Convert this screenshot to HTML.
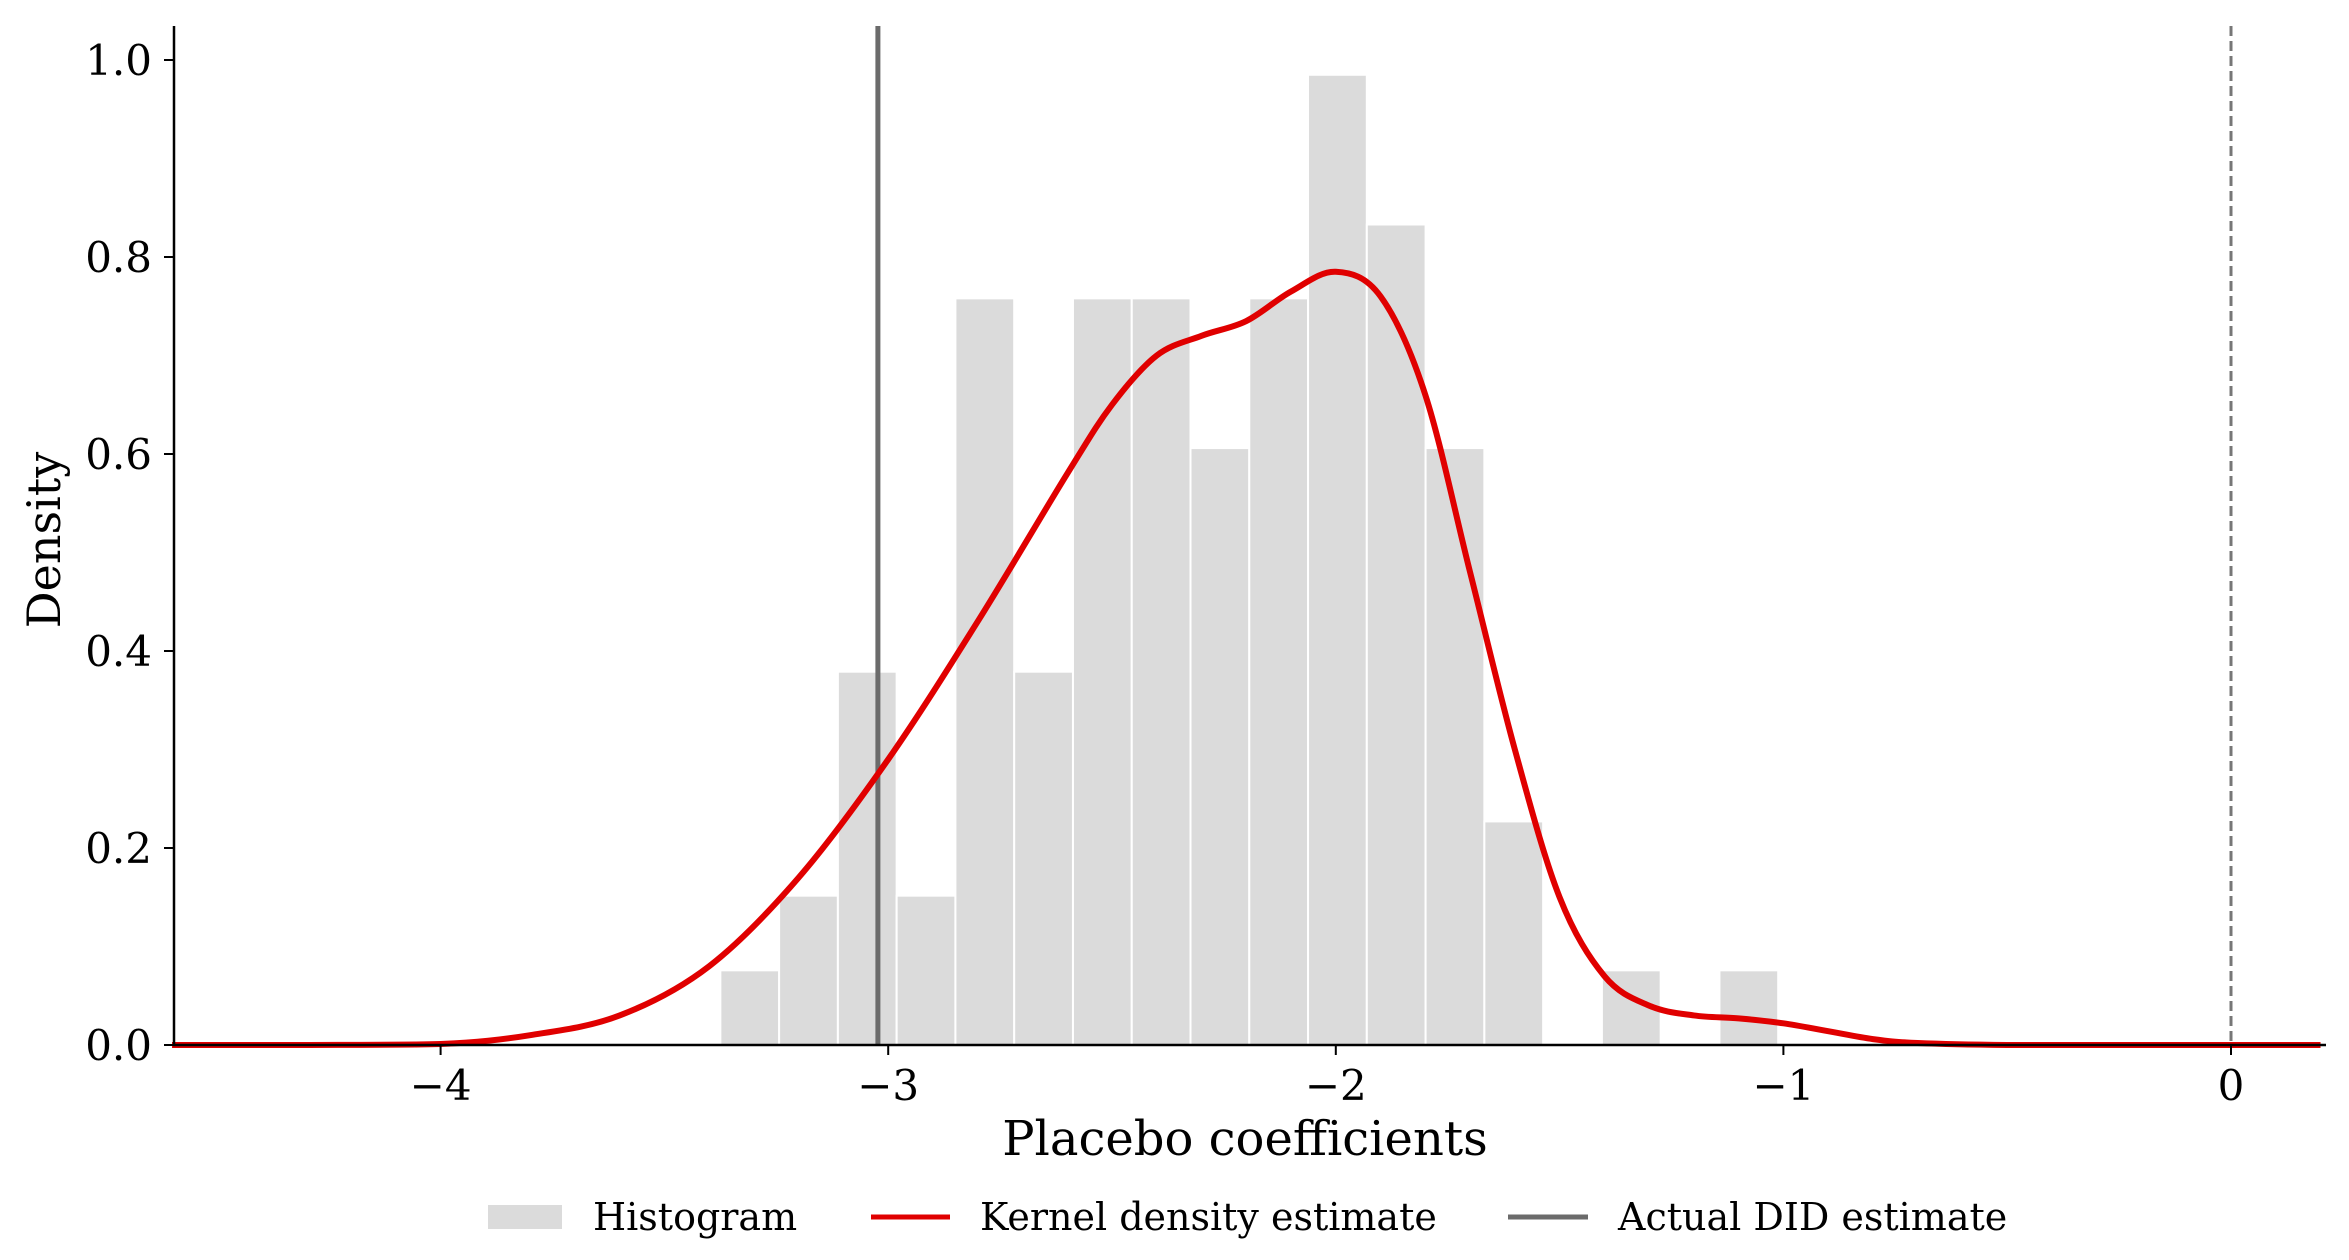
<!DOCTYPE html>
<html><head><meta charset="utf-8"><style>
html,body{margin:0;padding:0;background:#fff;}
svg{display:block;font-family:"DejaVu Serif","Liberation Serif",serif;}
</style></head><body>
<svg id="chart" width="2349" height="1260" viewBox="0 0 2349 1260" xmlns="http://www.w3.org/2000/svg">
<g id="bars"></g>
<g id="lines"></g>
<g id="kde"></g>
<g id="axes"></g>
<g id="legend"></g>
</svg>
<script>
const binStart = -3.375;
const binWidth = 0.1313;
const binDensities = [0.0758,0.1516,0.379,0.1516,0.758,0.379,0.758,0.758,0.606,0.758,0.985,0.833,0.606,0.227,0,0.0758,0,0.0758];
const kdeX = [-4.6,-4.3,-4.0,-3.8,-3.6,-3.4,-3.2,-3.0,-2.8,-2.6,-2.5,-2.4,-2.3,-2.2,-2.1,-2.0,-1.9,-1.8,-1.7,-1.6,-1.5,-1.4,-1.3,-1.2,-1.1,-1.0,-0.9,-0.8,-0.7,-0.5,-0.2,0.2];
const kdeY = [0,0,0.001,0.01,0.03,0.08,0.17,0.29,0.43,0.58,0.65,0.70,0.72,0.735,0.765,0.785,0.76,0.66,0.48,0.30,0.15,0.07,0.04,0.03,0.027,0.022,0.014,0.006,0.002,0,0,0];
const xTicks = [-4,-3,-2,-1,0];
const xTickLabels = ["\u22124","\u22123","\u22122","\u22121","0"];
const yTicks = [0,0.2,0.4,0.6,0.8,1.0];
const yTickLabels = ["0.0","0.2","0.4","0.6","0.8","1.0"];
const didEstimate = -3.023;
const zeroLine = 0;

const NS="http://www.w3.org/2000/svg";
const X0=174, X1=2326, Y0=1045, YT=26;
function xs(v){return 2231+(v)*447.6;}
function ys(v){return Y0-v*985;}
function mk(tag,parent,attrs){const e=document.createElementNS(NS,tag);for(const k in attrs)e.setAttribute(k,attrs[k]);parent.appendChild(e);return e;}

const bars=document.getElementById('bars');
binDensities.forEach((d,i)=>{
  if(d<=0)return;
  const a=xs(binStart+i*binWidth), b=xs(binStart+(i+1)*binWidth);
  const r=mk('rect',bars,{x:a,y:ys(d),width:b-a,height:Y0-ys(d),fill:'#dbdbdb',stroke:'#fff','stroke-width':2});
  
  
});

const lines=document.getElementById('lines');
const did=mk('line',lines,{x1:xs(didEstimate),x2:xs(didEstimate),y1:YT,y2:Y0,stroke:'#6b6b6b','stroke-width':5});


const zl=mk('line',lines,{x1:xs(zeroLine),x2:xs(zeroLine),y1:YT,y2:Y0,stroke:'#777','stroke-width':3,'stroke-dasharray':'10,5'});



const kde=document.getElementById('kde');
const pts=kdeX.map((x,i)=>[xs(x),ys(kdeY[i])]);
let d=`M${pts[0][0]},${pts[0][1]}`;
for(let i=0;i<pts.length-1;i++){
  const p0=pts[Math.max(0,i-1)],p1=pts[i],p2=pts[i+1],p3=pts[Math.min(pts.length-1,i+2)];
  const c1=[p1[0]+(p2[0]-p0[0])/6,p1[1]+(p2[1]-p0[1])/6];
  const c2=[p2[0]-(p3[0]-p1[0])/6,p2[1]-(p3[1]-p1[1])/6];
  d+=` C${c1[0]},${Math.min(Y0,c1[1])} ${c2[0]},${Math.min(Y0,c2[1])} ${p2[0]},${p2[1]}`;
}
const kp=mk('path',kde,{d:d,fill:'none',stroke:'#e00000','stroke-width':6});



const axes=document.getElementById('axes');
const ya=mk('line',axes,{x1:X0,x2:X0,y1:YT,y2:Y0+1,stroke:'#000','stroke-width':2.5});


const xa=mk('line',axes,{x1:X0-1,x2:X1,y1:Y0,y2:Y0,stroke:'#000','stroke-width':2.5});


xTicks.forEach((t,i)=>{
  mk('line',axes,{x1:xs(t),x2:xs(t),y1:Y0,y2:Y0+10,stroke:'#000','stroke-width':2});
  const tx=mk('text',axes,{x:xs(t),y:1100,'text-anchor':'middle','font-size':42,fill:'#000'});
  tx.textContent=xTickLabels[i];
  
  
});
yTicks.forEach((t,i)=>{
  mk('line',axes,{x1:X0-10,x2:X0,y1:ys(t),y2:ys(t),stroke:'#000','stroke-width':2});
  const tx=mk('text',axes,{x:152,y:ys(t)+15,'text-anchor':'end','font-size':42,fill:'#000'});
  tx.textContent=yTickLabels[i];
  
  
});
const xl=mk('text',axes,{x:1245,y:1155,'text-anchor':'middle','font-size':48,fill:'#000'});
xl.textContent='Placebo coefficients';


const yl=mk('text',axes,{x:0,y:0,'text-anchor':'middle','font-size':46,fill:'#000',transform:'translate(60,540) rotate(-90)'});
yl.textContent='Density';



const lg=document.getElementById('legend');
const LY=1217;
const lr=mk('rect',lg,{x:488,y:LY-12,width:74,height:24,fill:'#dbdbdb'});


const l1=mk('text',lg,{x:593,y:LY+13,'font-size':38,fill:'#000'});l1.textContent='Histogram';


const ll2=mk('line',lg,{x1:871,x2:950,y1:LY,y2:LY,stroke:'#e00000','stroke-width':5});


const l2=mk('text',lg,{x:980,y:LY+13,'font-size':38,fill:'#000'});l2.textContent='Kernel density estimate';


const ll3=mk('line',lg,{x1:1508,x2:1588,y1:LY,y2:LY,stroke:'#6b6b6b','stroke-width':5});


const l3=mk('text',lg,{x:1618,y:LY+13,'font-size':38,fill:'#000'});l3.textContent='Actual DID estimate';


</script>
</body></html>
